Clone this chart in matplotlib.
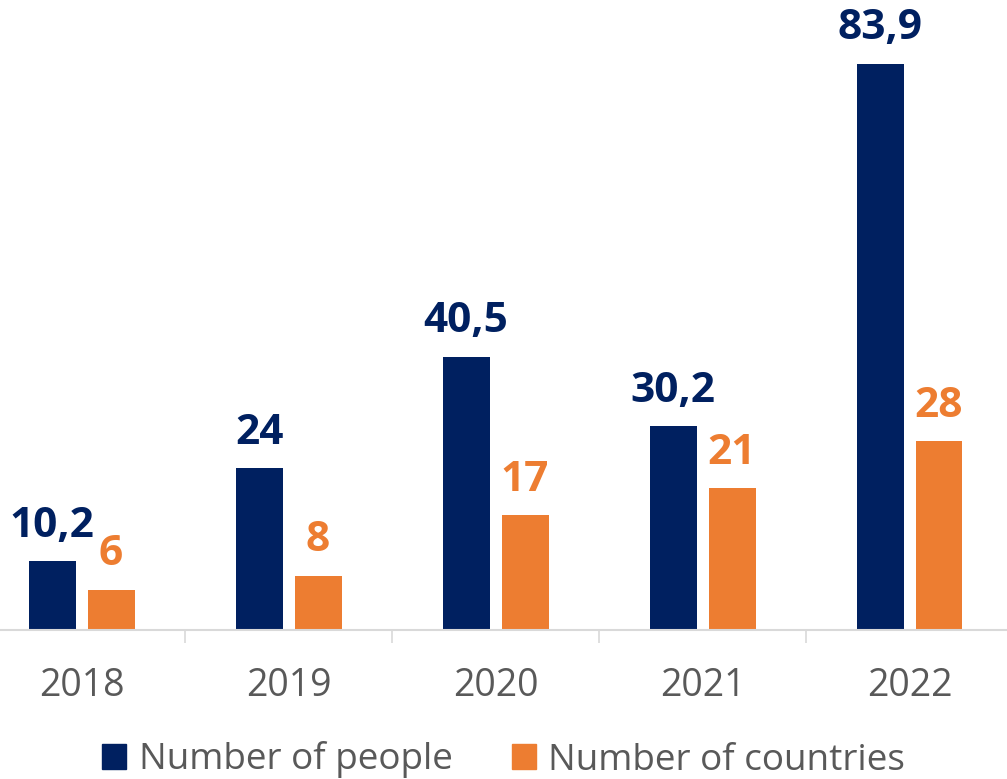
import matplotlib
matplotlib.use("Agg")
import matplotlib.pyplot as plt
from matplotlib.patches import Patch
import numpy as np

years = ["2018", "2019", "2020", "2021", "2022"]
people = [10.2, 24, 40.5, 30.2, 83.9]
countries = [6, 8, 17, 21, 28]
people_labels = ["10,2", "24", "40,5", "30,2", "83,9"]
country_labels = ["6", "8", "17", "21", "28"]

NAVY = "#002060"
ORANGE = "#ED7D31"
GRAY_TXT = "#595959"
AXIS = "#D9D9D9"
FONT = "Open Sans"

fig = plt.figure(figsize=(10.07, 7.79), dpi=100)
ax = fig.add_axes([0, 149 / 779, 1, 1 - 149 / 779 - 9.4 / 779])

x = np.arange(len(years))
w = 0.227
off = 0.1425
b1 = ax.bar(x - off, people, w, color=NAVY, label="Number of people")
b2 = ax.bar(x + off, countries, w, color=ORANGE, label="Number of countries")

for rect, lab in zip(b1, people_labels):
    ax.annotate(lab, (rect.get_x() + rect.get_width() / 2, rect.get_height()),
                xytext=(0, 10.5), textcoords="offset points", ha="center", va="bottom",
                fontsize=30.5, fontweight="bold", color=NAVY, family=FONT)
for rect, lab in zip(b2, country_labels):
    ax.annotate(lab, (rect.get_x() + rect.get_width() / 2, rect.get_height()),
                xytext=(0, 10.5), textcoords="offset points", ha="center", va="bottom",
                fontsize=30.5, fontweight="bold", color=ORANGE, family=FONT)

ax.set_xlim(-0.394, 4.471)
ax.set_ylim(0, 92)
for s in ["left", "right", "top"]:
    ax.spines[s].set_visible(False)
ax.spines["bottom"].set_color(AXIS)
ax.spines["bottom"].set_linewidth(1.5)
ax.set_yticks([])
ax.set_xticks(x)
ax.set_xticklabels(years, fontsize=27, color=GRAY_TXT, family=FONT)
ax.tick_params(axis="x", which="major", length=0, pad=27)
ax.set_xticks(x[:-1] + 0.5, minor=True)
ax.tick_params(axis="x", which="minor", length=9.5, width=1.2, color=AXIS)

fig.legend(handles=[Patch(color=NAVY, label="Number of people"),
                    Patch(color=ORANGE, label="Number of countries")],
           loc="center", bbox_to_anchor=(0.5, 1 - 760 / 779), ncol=2, frameon=False,
           prop={"family": FONT, "size": 26.6}, labelcolor=GRAY_TXT,
           handlelength=0.65, handleheight=0.65, handletextpad=0.35,
           columnspacing=1.6, borderaxespad=0)

fig.savefig("out.png", dpi=100)
